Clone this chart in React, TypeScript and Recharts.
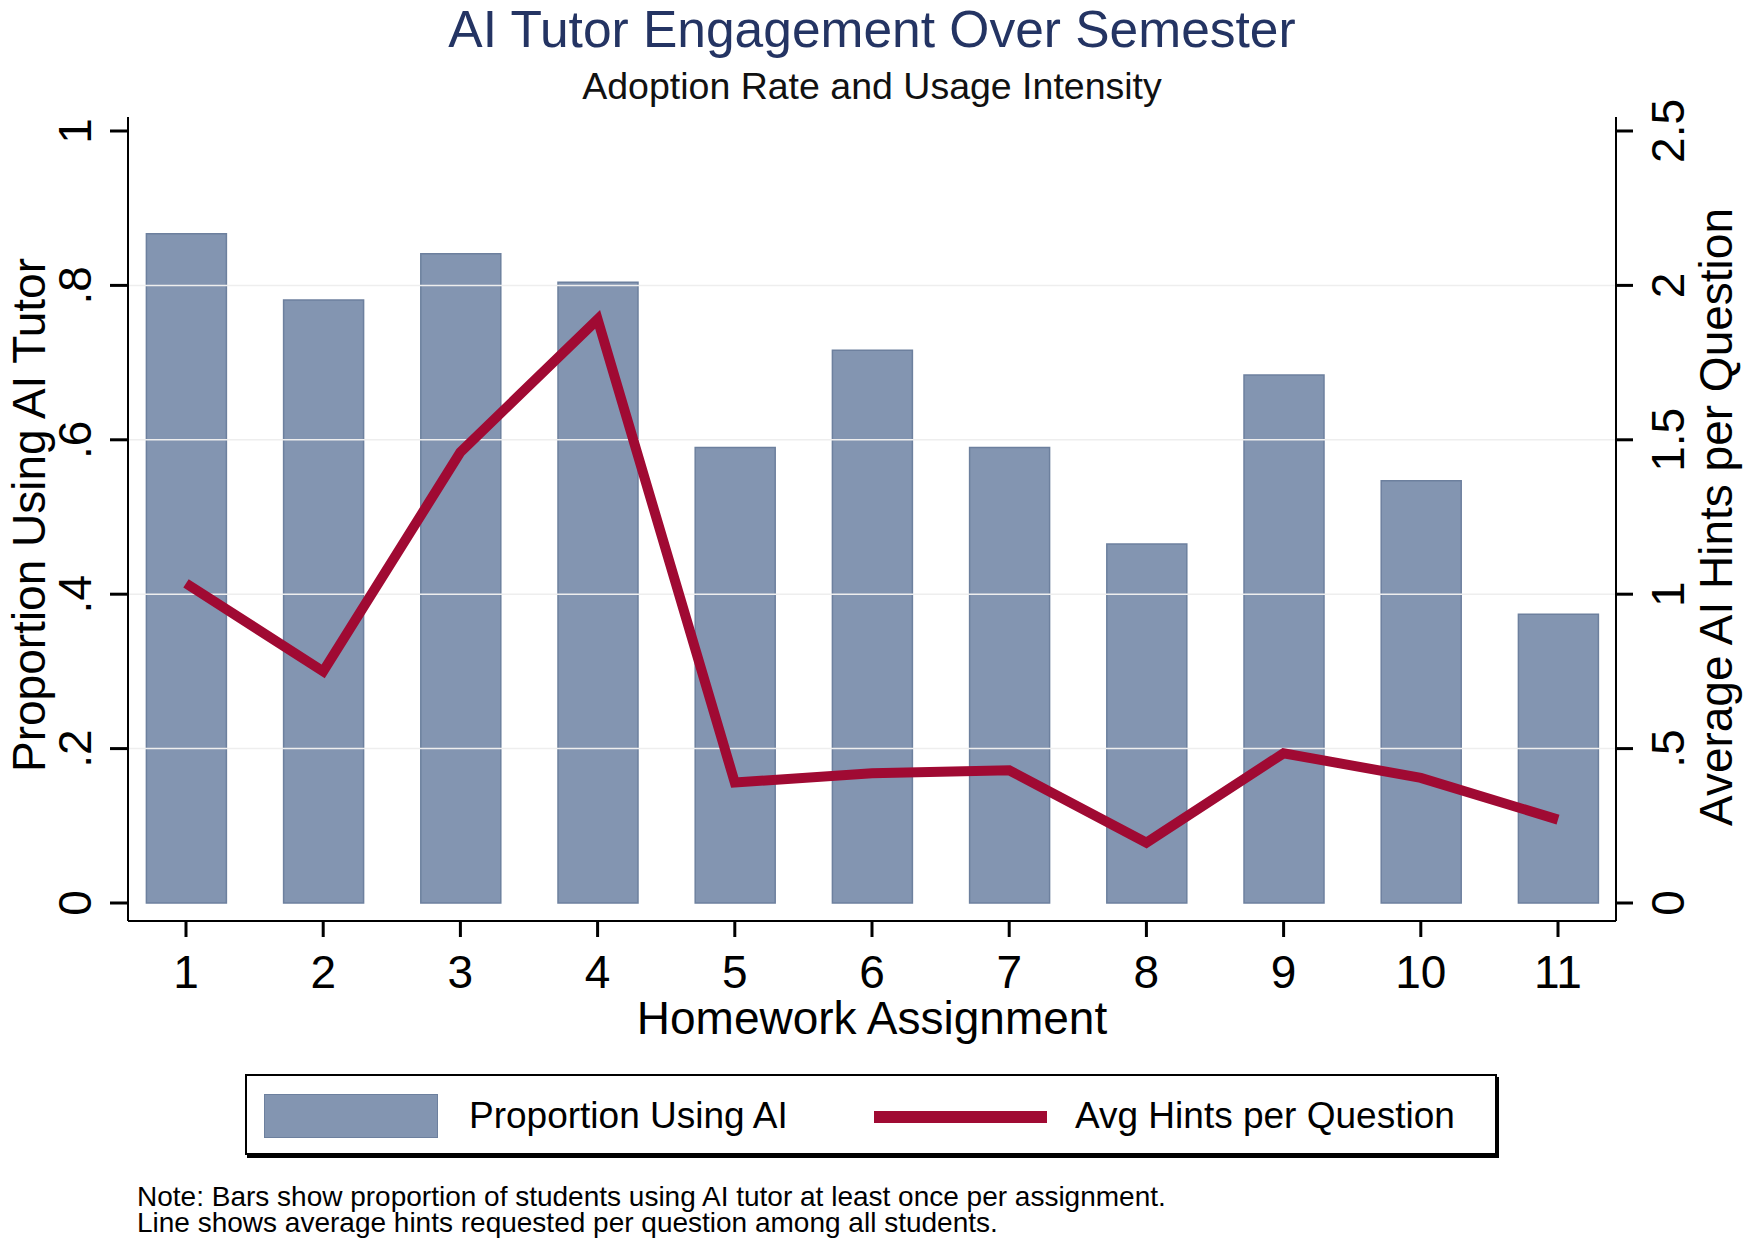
import React from "react";
import {
  ComposedChart,
  Bar,
  Line,
  XAxis,
  YAxis,
  ReferenceLine,
} from "recharts";

// ---- data ----
const assignments = [1, 2, 3, 4, 5, 6, 7, 8, 9, 10, 11];
const proportionUsingAI = [0.867, 0.781, 0.841, 0.804, 0.59, 0.716, 0.59, 0.465, 0.684, 0.547, 0.374];
const avgHintsPerQuestion = [1.035, 0.75, 1.46, 1.89, 0.39, 0.42, 0.43, 0.195, 0.485, 0.405, 0.27];
const leftTicks = [0, 0.2, 0.4, 0.6, 0.8, 1];
const leftTickLabels = ["0", ".2", ".4", ".6", ".8", "1"];
const rightTicks = [0, 0.5, 1, 1.5, 2, 2.5];
const rightTickLabels = ["0", ".5", "1", "1.5", "2", "2.5"];
const gridValues = [0.2, 0.4, 0.6, 0.8];

const titleText = "AI Tutor Engagement Over Semester";
const subtitleText = "Adoption Rate and Usage Intensity";
const xTitle = "Homework Assignment";
const leftTitle = "Proportion Using AI Tutor";
const rightTitle = "Average AI Hints per Question";
const legendBarLabel = "Proportion Using AI";
const legendLineLabel = "Avg Hints per Question";
const noteLines = [
  "Note: Bars show proportion of students using AI tutor at least once per assignment.",
  "Line shows average hints requested per question among all students.",
];

const data = assignments.map((a, i) => ({
  hw: a,
  prop: proportionUsingAI[i],
  hints: avgHintsPerQuestion[i],
}));

const FONT = "'Liberation Sans', Arial, Helvetica, sans-serif";
const BAR_FILL = "#8395b1";
const BAR_STROKE = "#6d809e";
const LINE_COLOR = "#a00a33";
const TITLE_COLOR = "#243463";

const W = 1746;
const H = 1243;

const LeftTick = (props: any) => {
  const { x, y, payload } = props;
  const idx = leftTicks.indexOf(payload.value);
  const label = idx >= 0 ? leftTickLabels[idx] : String(payload.value);
  return (
    <text
      transform={`translate(${x - 36},${y}) rotate(-90)`}
      dy="0.36em"
      textAnchor="middle"
      fontSize={46}
      fontFamily={FONT}
      fill="#000"
    >
      {label}
    </text>
  );
};

const RightTick = (props: any) => {
  const { x, y, payload } = props;
  const idx = rightTicks.indexOf(payload.value);
  const label = idx >= 0 ? rightTickLabels[idx] : String(payload.value);
  return (
    <text
      transform={`translate(${x + 34},${y}) rotate(-90)`}
      dy="0.36em"
      textAnchor="middle"
      fontSize={46}
      fontFamily={FONT}
      fill="#000"
    >
      {label}
    </text>
  );
};

const XTick = (props: any) => {
  const { x, y, payload } = props;
  return (
    <text x={x} y={y + 51} textAnchor="middle" fontSize={46} fontFamily={FONT} fill="#000">
      {String(payload.value)}
    </text>
  );
};

export default function App() {
  return (
    <div
      style={{
        position: "absolute",
        left: 0,
        top: 0,
        width: W,
        height: H,
        background: "#fff",
        fontFamily: FONT,
        overflow: "hidden",
      }}
    >
      <ComposedChart
        width={W}
        height={H}
        data={data}
        margin={{ top: 117, right: 40, bottom: 262, left: 38 }}
      >
        {gridValues.map((g) => (
          <ReferenceLine key={g} yAxisId="left" y={g} stroke="#eeeeee" strokeWidth={1.5} />
        ))}
        <XAxis
          dataKey="hw"
          type="number"
          domain={[0.5773, 11.4227]}
          ticks={assignments}
          allowDataOverflow
          height={60}
          tickSize={16}
          tickMargin={0}
          tick={<XTick />}
          axisLine={{ stroke: "#000", strokeWidth: 2 }}
          tickLine={{ stroke: "#000", strokeWidth: 3 }}
          interval={0}
        />
        <YAxis
          yAxisId="left"
          orientation="left"
          width={90}
          domain={[-0.02332, 1.01813]}
          ticks={leftTicks}
          allowDataOverflow
          tickSize={18}
          tickMargin={0}
          tick={<LeftTick />}
          axisLine={{ stroke: "#000", strokeWidth: 2 }}
          tickLine={{ stroke: "#000", strokeWidth: 3 }}
          interval={0}
        />
        <YAxis
          yAxisId="right"
          orientation="right"
          width={90}
          domain={[-0.0583, 2.5453]}
          ticks={rightTicks}
          allowDataOverflow
          tickSize={17}
          tickMargin={0}
          tick={<RightTick />}
          axisLine={{ stroke: "#000", strokeWidth: 2 }}
          tickLine={{ stroke: "#000", strokeWidth: 3 }}
          interval={0}
        />
        <Bar
          yAxisId="left"
          dataKey="prop"
          barSize={80}
          fill={BAR_FILL}
          stroke={BAR_STROKE}
          strokeWidth={1.5}
          isAnimationActive={false}
        />
        <Line
          yAxisId="right"
          dataKey="hints"
          type="linear"
          stroke={LINE_COLOR}
          strokeWidth={10}
          strokeLinejoin="miter"
          strokeLinecap="butt"
          dot={false}
          activeDot={false}
          isAnimationActive={false}
        />
      </ComposedChart>

      <svg
        width={W}
        height={H}
        style={{ position: "absolute", left: 0, top: 0, pointerEvents: "none" }}
      >
        <text x={872} y={47} textAnchor="middle" fontSize={51.5} fontFamily={FONT} fill={TITLE_COLOR}>
          {titleText}
        </text>
        <text x={872} y={99} textAnchor="middle" fontSize={37.5} fontFamily={FONT} fill="#111">
          {subtitleText}
        </text>
        <text x={872} y={1034} textAnchor="middle" fontSize={46} fontFamily={FONT} fill="#000">
          {xTitle}
        </text>
        <text
          transform="translate(28,515) rotate(-90)"
          dy="0.36em"
          textAnchor="middle"
          fontSize={46}
          fontFamily={FONT}
          fill="#000"
        >
          {leftTitle}
        </text>
        <text
          transform="translate(1715,517) rotate(-90)"
          dy="0.36em"
          textAnchor="middle"
          fontSize={46}
          fontFamily={FONT}
          fill="#000"
        >
          {rightTitle}
        </text>
        {noteLines.map((l, i) => (
          <text key={i} x={137} y={1206 + i * 26} fontSize={28} fontFamily={FONT} fill="#000">
            {l}
          </text>
        ))}
      </svg>

      <div
        style={{
          position: "absolute",
          left: 245,
          top: 1074,
          width: 1252,
          height: 81,
          border: "2px solid #000",
          boxShadow: "2px 3px 0 #000",
          background: "#fff",
          boxSizing: "border-box",
        }}
      >
        <div
          style={{
            position: "absolute",
            left: 17,
            top: 18,
            width: 174,
            height: 44,
            background: BAR_FILL,
            border: `1.5px solid ${BAR_STROKE}`,
            boxSizing: "border-box",
          }}
        />
        <div
          style={{
            position: "absolute",
            left: 222,
            top: 16,
            fontSize: 37,
            lineHeight: "48px",
            color: "#000",
            whiteSpace: "nowrap",
          }}
        >
          {legendBarLabel}
        </div>
        <div
          style={{
            position: "absolute",
            left: 627,
            top: 35,
            width: 173,
            height: 12,
            background: LINE_COLOR,
          }}
        />
        <div
          style={{
            position: "absolute",
            left: 828,
            top: 16,
            fontSize: 37,
            lineHeight: "48px",
            color: "#000",
            whiteSpace: "nowrap",
          }}
        >
          {legendLineLabel}
        </div>
      </div>
    </div>
  );
}
